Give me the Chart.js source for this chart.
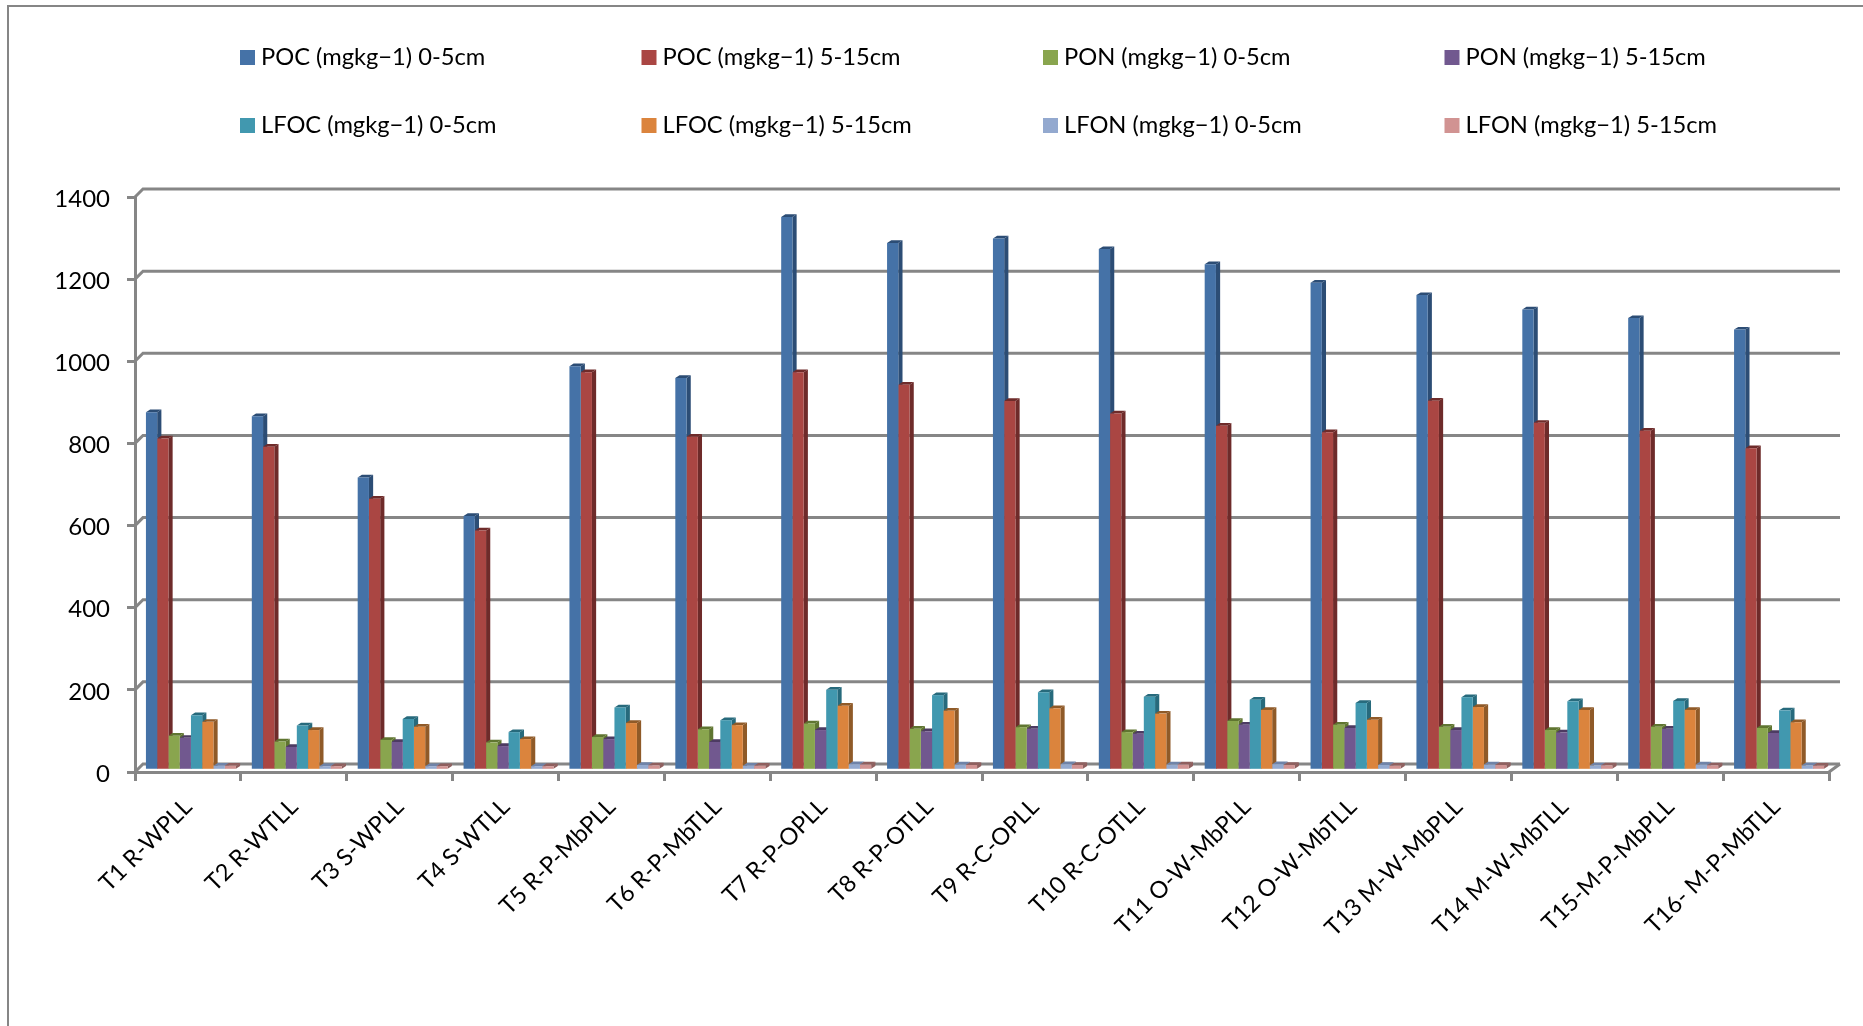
<!DOCTYPE html>
<html>
<head>
<meta charset="utf-8">
<script src="https://cdn.jsdelivr.net/npm/chart.js@4/dist/chart.umd.min.js"></script>
<style>
  html, body { margin: 0; padding: 0; background: #fff; overflow: hidden; }
  #stage { position: relative; width: 1863px; height: 1026px; }
  #frame { position: absolute; left: 7px; top: 5px; right: 0; bottom: 0;
           border-left: 2px solid #868686; border-top: 2px solid #868686; }
  canvas { position: absolute; left: 0; top: 0; }
</style>
</head>
<body>
<div id="stage">
  <div id="frame"></div>
  <canvas id="chart" width="1863" height="1026"></canvas>
</div>
<script>
// Treatments along the category axis
const categories = [
  'T1 R-WPLL', 'T2 R-WTLL', 'T3 S-WPLL', 'T4 S-WTLL',
  'T5 R-P-MbPLL', 'T6 R-P-MbTLL', 'T7 R-P-OPLL', 'T8 R-P-OTLL',
  'T9 R-C-OPLL', 'T10 R-C-OTLL', 'T11 O-W-MbPLL', 'T12 O-W-MbTLL',
  'T13 M-W-MbPLL', 'T14 M-W-MbTLL', 'T15-M-P-MbPLL', 'T16- M-P-MbTLL'
];

// Measured fractions, by soil depth
const pocTop    = [872, 862, 713, 619, 984, 955, 1347, 1284, 1295, 1269, 1232, 1187, 1157, 1122, 1101, 1073];
const pocSub    = [808, 788, 661, 584, 969, 812, 969, 939, 899, 869, 839, 823, 900, 846, 827, 784];
const ponTop    = [84, 70, 74, 68, 81, 100, 114, 101, 105, 93, 120, 111, 106, 98, 106, 103];
const ponSub    = [79, 57, 69, 59, 76, 69, 98, 95, 101, 89, 111, 103, 98, 92, 101, 91];
const lfocTop   = [134, 109, 125, 93, 153, 122, 196, 183, 190, 179, 172, 164, 178, 168, 169, 146];
const lfocSub   = [118, 98, 106, 76, 115, 110, 157, 145, 151, 138, 147, 123, 154, 147, 147, 117];
const lfonTop   = [11, 10, 10, 10, 13, 11, 15, 14, 15, 14, 15, 13, 14, 12, 14, 12];
const lfonSub   = [11, 10, 10, 10, 12, 11, 14, 13, 13, 14, 13, 11, 13, 12, 12, 11];

const seriesLabels = [
  'POC (mgkg\u22121) 0-5cm', 'POC (mgkg\u22121) 5-15cm',
  'PON (mgkg\u22121) 0-5cm', 'PON (mgkg\u22121) 5-15cm',
  'LFOC (mgkg\u22121) 0-5cm', 'LFOC (mgkg\u22121) 5-15cm',
  'LFON (mgkg\u22121) 0-5cm', 'LFON (mgkg\u22121) 5-15cm'
];
const seriesValues = [pocTop, pocSub, ponTop, ponSub, lfocTop, lfocSub, lfonTop, lfonSub];
const faceColors = ['#4572A7', '#AA4643', '#89A54E', '#71588F', '#4198AF', '#DB843D', '#93A9CF', '#D19392'];
const sideColors = ['#2C4D75', '#6E2B2A', '#5F7530', '#4D3B62', '#276A7C', '#8F5A28', '#6F83A8', '#8F5F5E'];
const yTicks = [0, 200, 400, 600, 800, 1000, 1200, 1400];

const AXIS_GREY = '#868686';
const FONT = 'Lato, "Open Sans", sans-serif';

// Pseudo-3D geometry: how far the back wall and the bar faces are shifted
const WALL = { dx: 8, dy: 8 };
const BAR_PLANE = { dx: 3, dy: -1.7 };
const BAR_DEPTH = { dx: 4.2, dy: 2.7 };
const VALUE_LABEL_DROP = 2;

// Back wall: gridlines set back from the axes, joined by short diagonals
function drawWall(chart) {
  const { ctx, chartArea, scales } = chart;
  ctx.save();
  ctx.strokeStyle = AXIS_GREY;
  ctx.lineWidth = 3;
  yTicks.forEach(v => {
    const y = scales.y.getPixelForValue(v);
    ctx.beginPath();
    ctx.moveTo(chartArea.left, y);
    ctx.lineTo(chartArea.left + WALL.dx, y - WALL.dy);
    ctx.lineTo(chartArea.right + WALL.dx + 3, y - WALL.dy);
    ctx.stroke();
  });
  const y0 = scales.y.getPixelForValue(0);
  ctx.beginPath();
  ctx.moveTo(chartArea.right, y0);
  ctx.lineTo(chartArea.right + WALL.dx + 3, y0 - WALL.dy);
  ctx.stroke();
  ctx.restore();
}

// Extruded side and top faces, painted series by series beneath every front face
function drawBarDepth(chart) {
  const { ctx } = chart;
  ctx.save();
  ctx.translate(BAR_PLANE.dx, BAR_PLANE.dy);
  seriesValues.forEach((values, i) => {
    ctx.fillStyle = sideColors[i];
    chart.getDatasetMeta(i).data.forEach(bar => {
      const { x, y, base, width } = bar.getProps(['x', 'y', 'base', 'width'], true);
      const l = x - width / 2, r = x + width / 2;
      ctx.beginPath();
      ctx.moveTo(r, y);
      ctx.lineTo(r + BAR_DEPTH.dx, y - BAR_DEPTH.dy);
      ctx.lineTo(r + BAR_DEPTH.dx, base - BAR_DEPTH.dy);
      ctx.lineTo(r, base);
      ctx.closePath();
      ctx.fill();
      ctx.beginPath();
      ctx.moveTo(l, y);
      ctx.lineTo(l + BAR_DEPTH.dx, y - BAR_DEPTH.dy);
      ctx.lineTo(r + BAR_DEPTH.dx, y - BAR_DEPTH.dy);
      ctx.lineTo(r, y);
      ctx.closePath();
      ctx.fill();
    });
  });
  ctx.restore();
}

const depthPlugin = {
  id: 'depth',
  // Value labels sit slightly below their tick marks
  afterLayout(chart) {
    chart.scales.y.getLabelItems().forEach(item => {
      item.options.translation[1] += VALUE_LABEL_DROP;
    });
  },
  beforeDatasetsDraw(chart) {
    drawWall(chart);
    drawBarDepth(chart);
  },
  // Front faces share the plane of the extruded bars
  beforeDatasetDraw(chart) {
    chart.ctx.save();
    chart.ctx.translate(BAR_PLANE.dx, BAR_PLANE.dy);
  },
  afterDatasetDraw(chart) {
    chart.ctx.restore();
  }
};

// Four-column, two-row key above the plot
const keyPlugin = {
  id: 'key',
  afterDraw(chart) {
    const { ctx } = chart;
    const columns = [240, 641.5, 1043, 1444.5];
    const rows = [57.5, 125.5];
    ctx.save();
    ctx.font = '23.7px ' + FONT;
    ctx.textBaseline = 'middle';
    ctx.textAlign = 'left';
    seriesLabels.forEach((label, i) => {
      const x = columns[i % 4];
      const y = rows[Math.floor(i / 4)];
      ctx.fillStyle = faceColors[i];
      ctx.fillRect(x, y - 7.5, 15, 15);
      ctx.fillStyle = '#000';
      ctx.fillText(label, x + 21, y);
    });
    ctx.restore();
  }
};

new Chart(document.getElementById('chart'), {
  type: 'bar',
  data: {
    labels: categories,
    datasets: seriesValues.map((values, i) => ({
      label: seriesLabels[i],
      data: values,
      backgroundColor: faceColors[i],
      borderWidth: 0,
      clip: false
    }))
  },
  options: {
    responsive: false,
    animation: false,
    layout: { padding: { top: 197, right: 34, left: 0, bottom: 0 } },
    datasets: { bar: { categoryPercentage: 0.85, barPercentage: 1 } },
    plugins: { legend: { display: false }, tooltip: { enabled: false } },
    scales: {
      x: {
        grid: { drawOnChartArea: false, color: AXIS_GREY, lineWidth: 3, tickLength: 9 },
        border: { color: AXIS_GREY, width: 3 },
        ticks: {
          autoSkip: false, minRotation: 45, maxRotation: 45, padding: 12,
          color: '#000', font: { family: FONT, size: 23.5 }
        },
        afterFit(scale) { scale.height = 254; }
      },
      y: {
        min: 0, max: 1400,
        grid: { drawOnChartArea: false, color: AXIS_GREY, lineWidth: 3, tickLength: 8 },
        border: { color: AXIS_GREY, width: 3 },
        ticks: {
          stepSize: 200, padding: 17, color: '#000',
          font: { family: FONT, size: 24 },
          callback: value => String(value)
        },
        afterFit(scale) { scale.width = 135; }
      }
    }
  },
  plugins: [depthPlugin, keyPlugin]
});
</script>
</body>
</html>
